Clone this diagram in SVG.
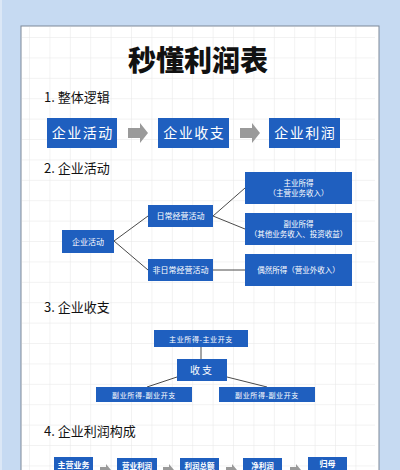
<svg xmlns="http://www.w3.org/2000/svg" width="400" height="470" viewBox="0 0 400 470">
<defs>
<pattern id="grid" x="9.6" y="17.6" width="20.4" height="20.4" patternUnits="userSpaceOnUse">
<path d="M20.4 0V20.4M0 20.4H20.4" fill="none" stroke="#e6e6e6" stroke-width="1"/>
</pattern>
<style>
.cn{font-family:"Noto Sans CJK SC","Noto Sans",sans-serif}
.box{fill:#1f5fbf}
.wt{fill:#ffffff;text-anchor:middle}
.hd{fill:#111;font-size:13px}
.ln{stroke:#4a4a4a;stroke-width:1;fill:none}
.arr{fill:#9a9a9a}
.big{font-size:14px;letter-spacing:1.5px}
</style>
</defs>
<rect width="400" height="470" fill="#c6daf2"/>
<rect x="0" y="0" width="2" height="470" fill="#dbe7f6"/>
<rect x="21" y="26" width="358" height="450" fill="#ffffff" stroke="#7d8898" stroke-width="1"/>
<rect x="22" y="27" width="353" height="443" fill="url(#grid)"/>

<text class="cn" x="198" y="71" font-size="28" font-weight="900" text-anchor="middle" fill="#111">秒懂利润表</text>

<text class="cn hd" x="44" y="102">1. 整体逻辑</text>
<text class="cn hd" x="44" y="173">2. 企业活动</text>
<text class="cn hd" x="44" y="312">3. 企业收支</text>
<text class="cn hd" x="44" y="436" font-size="14">4. 企业利润构成</text>

<g id="connectors">
<polygon class="arr" points="128,128 140,128 140,123 148,133 140,143 140,138 128,138"/>
<polygon class="arr" points="240,128 252,128 252,123 260,133 252,143 252,138 240,138"/>
<path class="ln" d="M114 241L148 216M114 241L148 270M213 216L245 188M213 216L245 229M213 270H245"/>
<path class="ln" d="M201 347V359M177 377L147 387M227 377L267 387"/>
<polygon class="arr" points="100,467 106,467 106,464 111,470 106,476 106,473 100,473"/>
<polygon class="arr" points="163,467 169,467 169,464 174,470 169,476 169,473 163,473"/>
<polygon class="arr" points="226,467 232,467 232,464 237,470 232,476 232,473 226,473"/>
<polygon class="arr" points="290,467 296,467 296,464 301,470 296,476 296,473 290,473"/>
</g>

<g id="n1"><rect class="box" x="47" y="118" width="70" height="30"/><text class="cn wt big" x="82.75" y="138">企业活动</text></g>
<g id="n2"><rect class="box" x="158" y="118" width="71" height="30"/><text class="cn wt big" x="194.25" y="138">企业收支</text></g>
<g id="n3"><rect class="box" x="269" y="118" width="71" height="30"/><text class="cn wt big" x="305.25" y="138">企业利润</text></g>

<g id="a1"><rect class="box" x="62" y="230" width="52" height="23"/><text class="cn wt" x="88" y="244.5" font-size="8">企业活动</text></g>
<g id="a2"><rect class="box" x="148" y="205" width="65" height="22"/><text class="cn wt" x="180.5" y="219" font-size="8">日常经营活动</text></g>
<g id="a3"><rect class="box" x="148" y="259" width="65" height="22"/><text class="cn wt" x="180.5" y="273" font-size="8">非日常经营活动</text></g>
<g id="a4"><rect class="box" x="245" y="172" width="107" height="32"/><text class="cn wt" x="298.5" y="186" font-size="7.5">主业所得</text><text class="cn wt" x="298.5" y="196" font-size="7.5">（主营业务收入）</text></g>
<g id="a5"><rect class="box" x="245" y="213" width="107" height="32"/><text class="cn wt" x="298.5" y="227" font-size="7.5">副业所得</text><text class="cn wt" x="298.5" y="237" font-size="7.5">（其他业务收入、投资收益）</text></g>
<g id="a6"><rect class="box" x="245" y="254" width="107" height="32"/><text class="cn wt" x="298.5" y="273" font-size="7.5">偶然所得（营业外收入）</text></g>

<g id="b1"><rect class="box" x="154" y="330" width="94" height="17"/><text class="cn wt" x="201" y="341.5" font-size="7" letter-spacing="0.6">主业所得-主业开支</text></g>
<g id="b2"><rect class="box" x="177" y="359" width="50" height="22"/><text class="cn wt" x="202" y="374" font-size="10" letter-spacing="2">收支</text></g>
<g id="b3"><rect class="box" x="96" y="387" width="96" height="15"/><text class="cn wt" x="144" y="397.5" font-size="7" letter-spacing="0.6">副业所得-副业开支</text></g>
<g id="b4"><rect class="box" x="219" y="387" width="96" height="15"/><text class="cn wt" x="267" y="397.5" font-size="7" letter-spacing="0.6">副业所得-副业开支</text></g>

<g id="c1"><rect class="box" x="54" y="457" width="39" height="20"/><text class="cn wt" x="73.5" y="467.5" font-size="8" font-weight="bold">主营业务</text></g>
<g id="c2"><rect class="box" x="117" y="458" width="40" height="20"/><text class="cn wt" x="137" y="468.5" font-size="7.5" font-weight="bold">营业利润</text></g>
<g id="c3"><rect class="box" x="180" y="458" width="39" height="20"/><text class="cn wt" x="199.5" y="468.5" font-size="7.5" font-weight="bold">利润总额</text></g>
<g id="c4"><rect class="box" x="243" y="458" width="39" height="20"/><text class="cn wt" x="262.5" y="468.5" font-size="7.5" font-weight="bold">净利润</text></g>
<g id="c5"><rect class="box" x="308" y="457" width="39" height="20"/><text class="cn wt" x="327.5" y="467" font-size="8" font-weight="bold">归母</text></g>
</svg>
